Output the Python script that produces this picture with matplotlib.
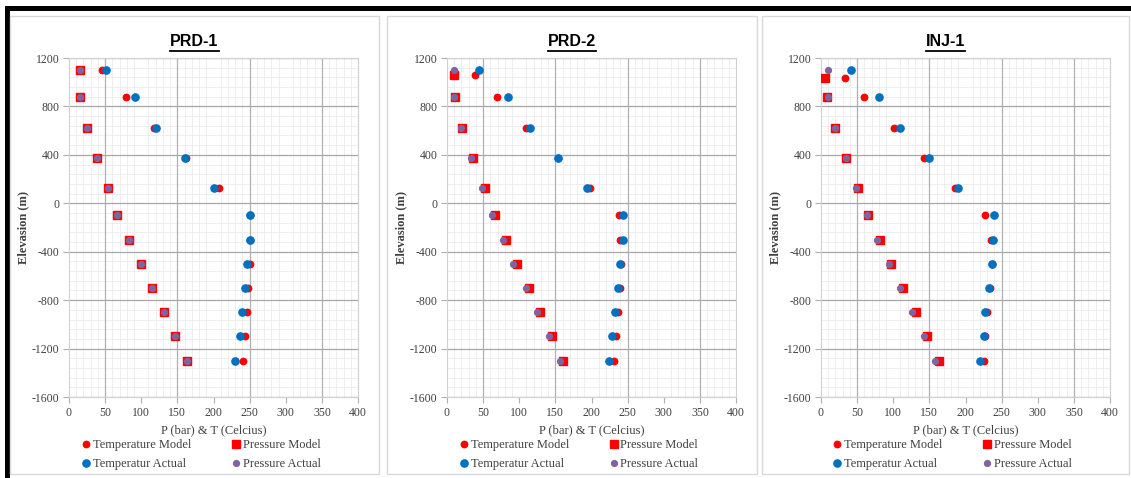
import matplotlib
matplotlib.use("Agg")
import matplotlib.pyplot as plt
from matplotlib.patches import Rectangle
from matplotlib.lines import Line2D
from matplotlib.ticker import MultipleLocator, FuncFormatter

# ---------------------------------------------------------------
# data
# ---------------------------------------------------------------
wells = ["PRD-1", "PRD-2", "INJ-1"]

elev_act = [1100, 875, 625, 375, 125, -100, -300, -500, -700, -900, -1100, -1300]

# PRD-1
prd1_elev_model = [1100, 875, 625, 375, 125, -100, -300, -500, -700, -900, -1100, -1300]
prd1_t_model = [45, 79, 118, 162, 207, 250, 250, 250, 248, 247, 243, 241]
prd1_p_model = [15, 15, 25, 39, 54, 67, 83, 99, 115, 131, 147, 164]
prd1_t_act = [51, 91, 121, 161, 201, 250, 250, 247, 243, 239, 236, 230]
prd1_p_act = [15, 15, 25, 39, 54, 67, 83, 99, 115, 131, 147, 164]

# PRD-2
prd2_elev_model = [1060, 875, 625, 375, 125, -100, -300, -500, -700, -900, -1100, -1300]
prd2_t_model = [39, 69, 110, 154, 198, 238, 240, 241, 240, 237, 234, 231]
prd2_p_model = [10, 11, 21, 36, 52, 66, 81, 97, 113, 129, 145, 161]
prd2_t_act = [44, 84, 115, 154, 194, 244, 243, 240, 237, 232, 229, 224]
prd2_p_act = [9, 10, 19, 33, 48, 62, 77, 92, 109, 124, 141, 157]

# INJ-1
inj1_elev_model = [1035, 875, 625, 375, 125, -100, -300, -500, -700, -900, -1100, -1300]
inj1_t_model = [33, 59, 101, 143, 186, 227, 235, 236, 234, 230, 227, 226]
inj1_p_model = [5, 8, 20, 34, 51, 65, 81, 97, 114, 131, 147, 163]
inj1_t_act = [41, 80, 110, 150, 190, 240, 238, 236, 233, 227, 225, 220]
inj1_p_act = [10, 10, 20, 34, 49, 63, 78, 94, 110, 126, 142, 158]

series = [
    (prd1_elev_model, prd1_t_model, prd1_p_model, prd1_t_act, prd1_p_act),
    (prd2_elev_model, prd2_t_model, prd2_p_model, prd2_t_act, prd2_p_act),
    (inj1_elev_model, inj1_t_model, inj1_p_model, inj1_t_act, inj1_p_act),
]

labels = ["Temperature Model", "Pressure Model", "Temperatur Actual", "Pressure Actual"]

# ---------------------------------------------------------------
# layout (pixels)
# ---------------------------------------------------------------
W, H = 1131, 478
panels = [(10, 379), (387, 757), (762, 1129)]
axes_left = [69, 447, 821]
ax_w, ax_top, ax_bot = 289, 58, 397

RED = "#ff0000"
BLUE = "#0070c0"
PURPLE = "#8064a2"
SERIF = ["Liberation Serif", "DejaVu Serif"]

fig = plt.figure(figsize=(W / 100, H / 100), dpi=100)
fig.patch.set_facecolor("white")

# black frame on the top and left edge of the screenshot
fig.add_artist(Rectangle((5 / W, 0), 4.5 / W, 1 - 7 / H, transform=fig.transFigure,
                         facecolor="black", edgecolor="none"))
fig.add_artist(Rectangle((5 / W, 1 - 11 / H), 1 - 5 / W, 4.5 / H, transform=fig.transFigure,
                         facecolor="black", edgecolor="none"))

titles = []
for i, name in enumerate(wells):
    p0, p1 = panels[i]
    fig.add_artist(Rectangle((p0 / W, 1 - 474 / H), (p1 - p0) / W, (474 - 16) / H,
                             transform=fig.transFigure, fill=False,
                             edgecolor="#d9d9d9", lw=1))
    ax = fig.add_axes([axes_left[i] / W, 1 - ax_bot / H, ax_w / W, (ax_bot - ax_top) / H])
    em, tm, pm, ta, pa = series[i]

    h1, = ax.plot(tm, em, "o", color=RED, ms=4.6, ls="none", zorder=3)
    h2, = ax.plot(pm, em, "s", color=RED, ms=5.6, ls="none", zorder=3)
    h3, = ax.plot(ta, elev_act, "o", color=BLUE, ms=5.2, ls="none", zorder=4)
    h4, = ax.plot(pa, elev_act, "o", color=PURPLE, ms=4.2, ls="none", zorder=4)

    ax.set_xlim(0, 400)
    ax.set_ylim(-1600, 1200)
    ax.xaxis.set_major_locator(MultipleLocator(50))
    ax.xaxis.set_minor_locator(MultipleLocator(10))
    ax.yaxis.set_major_locator(MultipleLocator(400))
    ax.yaxis.set_minor_locator(MultipleLocator(80))
    ax.yaxis.set_major_formatter(FuncFormatter(lambda v, p: f"{int(v)}"))

    ax.grid(which="minor", color="#ebebeb", lw=0.6)
    ax.grid(which="major", axis="y", color="#a6a6a6", lw=0.9)
    for gx in [50, 150, 250, 350]:
        ax.axvline(gx, color="#b0b0b0", lw=0.9, zorder=1)
    ax.set_axisbelow(True)

    for s in ax.spines.values():
        s.set_color("#d0d0d0")
        s.set_linewidth(0.8)
    ax.tick_params(which="major", length=4, color="#b0b0b0", labelsize=8.5,
                   labelcolor="#404040", pad=3)
    ax.tick_params(which="minor", length=0)
    for t in ax.get_xticklabels() + ax.get_yticklabels():
        t.set_family(SERIF)

    ax.set_xlabel("P (bar) & T (Celcius)", family=SERIF, fontsize=9, color="#404040",
                  labelpad=4)
    ax.set_ylabel("Elevasion (m)", family=SERIF, fontsize=9, fontweight="bold",
                  color="#404040", labelpad=2)

    cx = (p0 + p1) / 2
    t = fig.text(cx / W, 1 - 42 / H, name, ha="center", va="center",
                 family="Liberation Sans", fontweight="bold", fontsize=11.5)
    titles.append(t)

    leg = fig.legend([h1, h3, h2, h4], [labels[0], labels[2], labels[1], labels[3]],
                     ncol=2, loc="center", bbox_to_anchor=((cx + 7) / W, 1 - 454.5 / H),
                     frameon=False, prop={"family": SERIF, "size": 9},
                     handlelength=0.7, handletextpad=0.2, columnspacing=3.2,
                     labelspacing=0.55, borderpad=0)
    for txt in leg.get_texts():
        txt.set_color("#404040")

# underline the titles
fig.canvas.draw()
r = fig.canvas.get_renderer()
for t in titles:
    bb = t.get_window_extent(r)
    y = bb.y0 - 1.5
    fig.add_artist(Line2D([bb.x0 / W, bb.x1 / W], [y / H, y / H],
                          transform=fig.transFigure, color="black", lw=1.3))

fig.savefig("out.png", dpi=100)
